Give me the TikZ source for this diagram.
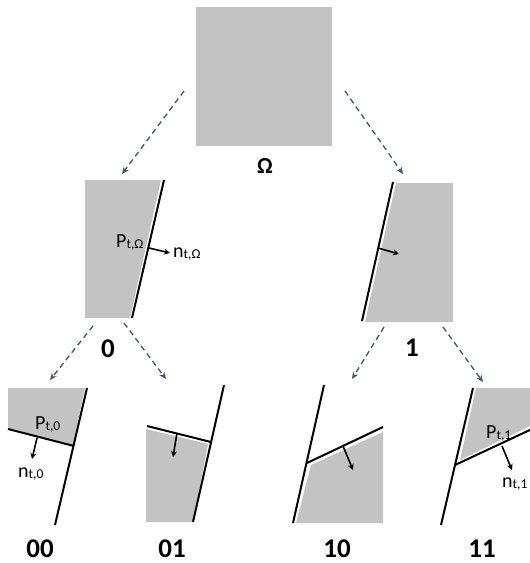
\documentclass[tikz,border=0pt]{standalone}
\usepackage{fontspec}
\setmainfont{Carlito}
\usetikzlibrary{arrows.meta}
\definecolor{boxgray}{RGB}{195,195,195}
\definecolor{linkcol}{RGB}{68,84,106}
\newcommand{\subl}[1]{{\fontsize{13.5}{13.5}\selectfont\raisebox{-1.5pt}{#1}}}
\tikzset{
  region/.style={fill=boxgray, draw=none},
  cutline/.style={draw=black, line width=2pt},
  normalarrow/.style={draw=black, line width=1.6pt, -{Stealth[length=6pt,width=6pt]}},
  link/.style={draw=linkcol, line width=1.3pt, dash pattern=on 5.5pt off 4pt, -{Stealth[length=7pt,width=6pt]}},
  biglabel/.style={font=\fontsize{27}{27}\selectfont\bfseries, inner sep=0pt},
  smalllabel/.style={font=\fontsize{20}{20}\selectfont, inner sep=0pt, anchor=base west}
}
\begin{document}
\begin{tikzpicture}[x=1pt,y=-1pt]
\useasboundingbox (0,0) rectangle (530,563);

% root
\node[region, minimum width=136pt, minimum height=139pt, inner sep=0pt, anchor=north west] (root) at (196,7) {};
\node[biglabel, font=\fontsize{23}{23}\selectfont\bfseries] (lroot) at (265,166) {Ω};

% node 0
\fill[region] (85,180) -- (161,180) -- (130,318) -- (85,318) -- cycle;
\coordinate (a0) at (164,180);
\coordinate (b0) at (132,318);
\draw[cutline] (a0) -- (b0);
\coordinate (n0s) at (149,248);
\coordinate (n0e) at (170,253);
\draw[normalarrow] (n0s) -- (n0e);
\node[smalllabel] (p0) at (116,247) {P\subl{t,Ω}};
\node[smalllabel] (nn0) at (173,257) {n\subl{t,Ω}};
\node[biglabel] (l0) at (108,349) {0};

% node 1
\fill[region] (396,183) -- (453,183) -- (453,322) -- (365,322) -- cycle;
\coordinate (a1) at (393,182);
\coordinate (b1) at (362,321);
\draw[cutline] (a1) -- (b1);
\coordinate (n1s) at (378,248);
\coordinate (n1e) at (399,254);
\draw[normalarrow] (n1s) -- (n1e);
\node[biglabel] (l1) at (412,348) {1};

% node 00
\fill[region] (8,388) -- (85,388) -- (73,445) -- (8,429) -- cycle;
\coordinate (a00) at (87,388);
\coordinate (b00) at (55,525);
\coordinate (c00) at (8,429);
\coordinate (d00) at (74,446);
\draw[cutline] (a00) -- (b00);
\draw[cutline] (c00) -- (d00);
\coordinate (n00s) at (37,438);
\coordinate (n00e) at (32,459);
\draw[normalarrow] (n00s) -- (n00e);
\node[smalllabel] (p00) at (35,429) {P\subl{t,0}};
\node[smalllabel] (nn00) at (18,477) {n\subl{t,0}};
\node[biglabel] (l00) at (40,549) {00};

% node 01
\fill[region] (146,429) -- (208,444) -- (193,522) -- (146,522) -- cycle;
\coordinate (a01) at (224,385);
\coordinate (b01) at (193,522);
\coordinate (c01) at (147,426);
\coordinate (d01) at (211,442);
\draw[cutline] (a01) -- (b01);
\draw[cutline] (c01) -- (d01);
\coordinate (n01s) at (177,433);
\coordinate (n01e) at (173,457);
\draw[normalarrow] (n01s) -- (n01e);
\node[biglabel] (l01) at (172,549) {01};

% node 10
\fill[region] (311,465) -- (383,432) -- (383,523) -- (296,523) -- cycle;
\coordinate (a10) at (324,385);
\coordinate (b10) at (293,523);
\coordinate (c10) at (307,463);
\coordinate (d10) at (383,427);
\draw[cutline] (a10) -- (b10);
\draw[cutline] (c10) -- (d10);
\coordinate (n10s) at (343,446);
\coordinate (n10e) at (353,470);
\draw[normalarrow] (n10s) -- (n10e);
\node[biglabel] (l10) at (337,549) {10};

% node 11
\fill[region] (476,388) -- (530,388) -- (530,426) -- (460,460) -- cycle;
\coordinate (a11) at (473,388);
\coordinate (b11) at (441,525);
\coordinate (c11) at (455,465);
\coordinate (d11) at (532,429);
\draw[cutline] (a11) -- (b11);
\draw[cutline] (c11) -- (d11);
\coordinate (n11s) at (502,446);
\coordinate (n11e) at (512,470);
\draw[normalarrow] (n11s) -- (n11e);
\node[smalllabel] (p11) at (486,438) {P\subl{t,1}};
\node[smalllabel] (nn11) at (502,487) {n\subl{t,1}};
\node[biglabel] (l11) at (482,549) {11};

% links
\coordinate (r0s) at (184,91);
\coordinate (r0e) at (122,174);
\coordinate (r1s) at (345,91);
\coordinate (r1e) at (403,174);
\coordinate (z0s) at (93,326);
\coordinate (z0e) at (50,380);
\coordinate (z1s) at (124,323);
\coordinate (z1e) at (166,379);
\coordinate (o0s) at (384,327);
\coordinate (o0e) at (352,379);
\coordinate (o1s) at (443,327);
\coordinate (o1e) at (483,382);
\draw[link] (r0s) -- (r0e);
\draw[link] (r1s) -- (r1e);
\draw[link] (z0s) -- (z0e);
\draw[link] (z1s) -- (z1e);
\draw[link] (o0s) -- (o0e);
\draw[link] (o1s) -- (o1e);
\end{tikzpicture}
\end{document}
